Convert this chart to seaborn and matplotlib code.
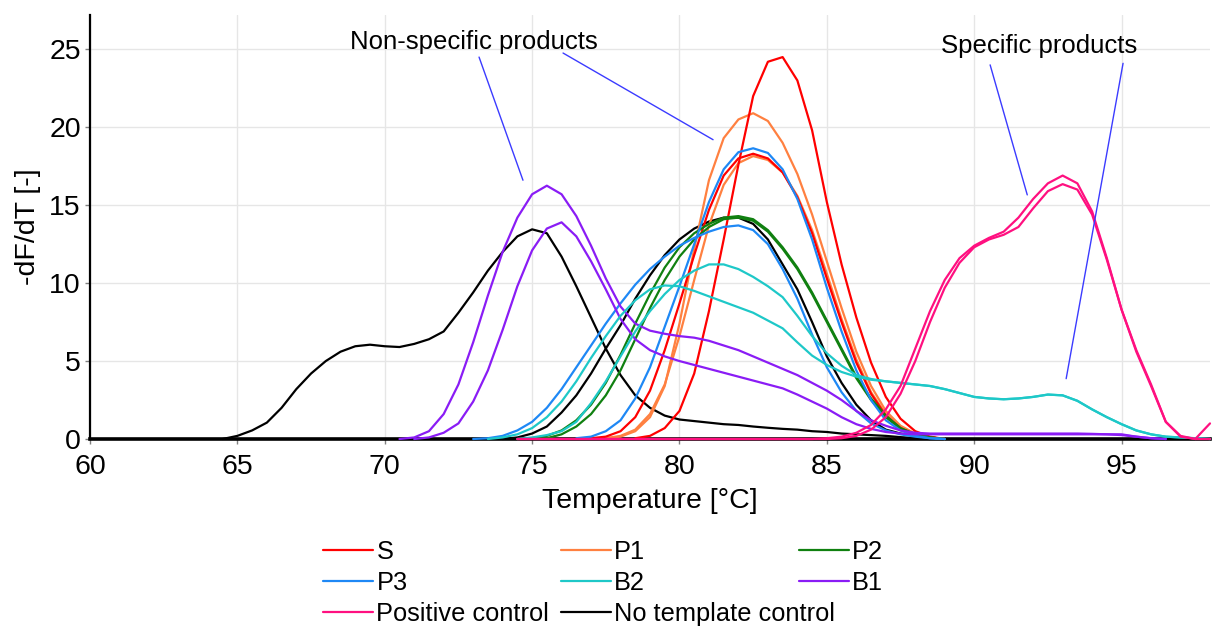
import numpy as np
import pandas as pd
import matplotlib
matplotlib.use("Agg")
import matplotlib.pyplot as plt
from matplotlib.lines import Line2D
import seaborn as sns

# Melt-curve derivative readings, one value every 0.5 °C from each start temperature
STEP = 0.5

samples = ["S", "P1", "P2", "P3", "B2", "B1", "Positive control", "No template control"]
colors = ["#FF0000", "#FF8040", "#108010", "#1E88F5", "#1EC8C8", "#8A1CF5", "#FF1080", "#000000"]

s_start = [78.5, 77.0]
s_rep1 = [0.05, 0.2, 0.7, 1.8, 4.2, 8.2, 12.8, 17.6, 22.0, 24.2, 24.5, 23.0, 19.8, 15.2,
          11.2, 7.8, 4.9, 2.7, 1.3, 0.5, 0.15, 0.0]
s_rep2 = [0.05, 0.15, 0.5, 1.4, 3.1, 5.7, 8.7, 11.8, 14.7, 16.9, 18.0, 18.3, 18.0, 17.1,
          15.5, 13.2, 10.3, 7.5, 4.9, 2.9, 1.5, 0.7, 0.3, 0.1, 0.0]

p1_start = [77.5, 77.5]
p1_rep1 = [0.05, 0.15, 0.5, 1.4, 3.4, 7.4, 12.2, 16.6, 19.3, 20.5, 20.9, 20.4, 19.0, 17.0,
           14.4, 11.4, 8.4, 5.6, 3.4, 1.8, 0.85, 0.35, 0.1, 0.0]
p1_rep2 = [0.05, 0.2, 0.6, 1.6, 3.5, 6.6, 10.2, 13.7, 16.3, 17.7, 18.15, 17.9, 17.1, 15.6,
           13.4, 10.6, 7.7, 5.1, 3.0, 1.6, 0.75, 0.3, 0.1, 0.0]

p2_start = [74.5, 75.0]
p2_rep1 = [0.0, 0.05, 0.2, 0.55, 1.2, 2.2, 3.6, 5.4, 7.4, 9.3, 11.0, 12.3, 13.2, 13.8, 14.2,
           14.3, 14.1, 13.4, 12.3, 11.0, 9.4, 7.6, 5.8, 4.0, 2.6, 1.5, 0.7, 0.3, 0.1, 0.0]
p2_rep2 = [0.0, 0.05, 0.3, 0.8, 1.6, 2.8, 4.4, 6.4, 8.4, 10.2, 11.7, 12.8, 13.6, 14.1, 14.2,
           14.0, 13.3, 12.2, 10.9, 9.3, 7.5, 5.7, 3.9, 2.5, 1.4, 0.65, 0.3, 0.1, 0.0]

p3_start = [76.5, 73.0]
p3_rep1 = [0.05, 0.15, 0.5, 1.2, 2.6, 4.6, 7.2, 9.8, 12.5, 15.2, 17.3, 18.4, 18.65, 18.35,
           17.3, 15.4, 12.8, 9.7, 6.9, 4.4, 2.5, 1.2, 0.55, 0.2, 0.05, 0.0]
p3_rep2 = [0.0, 0.05, 0.2, 0.55, 1.1, 2.0, 3.2, 4.6, 6.0, 7.4, 8.7, 9.9, 10.9, 11.7, 12.4,
           12.9, 13.3, 13.6, 13.7, 13.4, 12.5, 10.9, 9.0, 6.7, 4.6, 3.0, 1.8, 1.0, 0.55, 0.3,
           0.15, 0.05, 0.0]

b2_start = [74.5, 73.5]
b2_rep1 = [0.0, 0.1, 0.25, 0.5, 1.1, 2.3, 3.7, 5.3, 6.9, 8.2, 9.3, 10.2, 10.8, 11.2, 11.2,
           10.9, 10.4, 9.8, 9.1, 7.9, 6.6, 5.5, 4.7, 4.1, 3.85, 3.7, 3.6, 3.5, 3.4, 3.2,
           2.95, 2.7, 2.6, 2.55, 2.6, 2.7, 2.85, 2.8, 2.45, 1.9, 1.4, 0.95, 0.55, 0.3, 0.15,
           0.1, 0.05, 0.0]
b2_rep2 = [0.0, 0.1, 0.3, 0.7, 1.4, 2.4, 3.7, 5.2, 6.6, 7.9, 8.9, 9.6, 9.85, 9.8, 9.5, 9.15,
           8.8, 8.45, 8.1, 7.6, 7.1, 6.2, 5.35, 4.75, 4.3, 4.0, 3.8, 3.7, 3.6, 3.5, 3.4, 3.2,
           2.95, 2.7, 2.6, 2.55, 2.6, 2.7, 2.85, 2.8, 2.45, 1.9, 1.4, 0.95, 0.55, 0.3, 0.15,
           0.1, 0.05, 0.0]

b1_start = [70.5, 71.0]
b1_rep1 = [0.0, 0.1, 0.5, 1.6, 3.5, 6.2, 9.2, 12.0, 14.2, 15.7, 16.25, 15.7, 14.3, 12.4,
           10.3, 8.5, 7.4, 6.95, 6.75, 6.6, 6.5, 6.3, 6.0, 5.7, 5.3, 4.9, 4.5, 4.1, 3.6, 3.1,
           2.5, 1.8, 1.2, 0.85, 0.55, 0.4, 0.35, 0.35, 0.35, 0.35, 0.35, 0.35, 0.35, 0.35,
           0.35, 0.35, 0.35, 0.33, 0.3, 0.25, 0.15, 0.05, 0.0]
b1_rep2 = [0.0, 0.1, 0.4, 1.0, 2.4, 4.4, 7.0, 9.8, 12.1, 13.5, 13.9, 13.0, 11.4, 9.6, 7.7,
           6.4, 5.7, 5.3, 5.0, 4.75, 4.5, 4.25, 4.0, 3.75, 3.5, 3.25, 2.85, 2.4, 1.95, 1.4,
           0.95, 0.65, 0.45, 0.35, 0.3, 0.3, 0.3, 0.3, 0.3, 0.3, 0.3, 0.3, 0.3, 0.3, 0.3,
           0.3, 0.3, 0.3, 0.3, 0.15, 0.05, 0.0]

pc_start = [74.5, 74.5]
pc_rep1 = [0.0, 0.0, 0.0, 0.0, 0.0, 0.0, 0.0, 0.0, 0.0, 0.0, 0.0, 0.0, 0.0, 0.0, 0.0, 0.0,
           0.0, 0.0, 0.0, 0.0, 0.0, 0.05, 0.15, 0.4, 0.9, 1.9, 3.4, 5.8, 8.2, 10.2, 11.6,
           12.4, 12.9, 13.3, 14.2, 15.4, 16.4, 16.9, 16.4, 14.6, 11.6, 8.3, 5.7, 3.5, 1.1,
           0.2, 0.0, 1.0]
pc_rep2 = [0.0, 0.0, 0.0, 0.0, 0.0, 0.0, 0.0, 0.0, 0.0, 0.0, 0.0, 0.0, 0.0, 0.0, 0.0, 0.0,
           0.0, 0.0, 0.0, 0.0, 0.0, 0.0, 0.05, 0.2, 0.6, 1.4, 2.9, 5.0, 7.5, 9.7, 11.3, 12.3,
           12.8, 13.1, 13.6, 14.8, 15.9, 16.35, 16.0, 14.4, 11.5, 8.3, 5.6, 3.4, 1.1, 0.15,
           0.0, 0.0]

ntc_start = [64.5, 74.0]
ntc_rep1 = [0.0, 0.2, 0.55, 1.05, 2.0, 3.2, 4.2, 5.0, 5.6, 5.95, 6.05, 5.95, 5.9, 6.1, 6.4,
            6.9, 8.1, 9.4, 10.8, 12.0, 13.0, 13.45, 13.2, 11.7, 9.8, 7.8, 5.8, 4.1, 2.8, 2.0,
            1.5, 1.25, 1.15, 1.05, 0.95, 0.9, 0.8, 0.72, 0.65, 0.6, 0.5, 0.45, 0.35, 0.3,
            0.25, 0.2, 0.12, 0.05, 0.0]
ntc_rep2 = [0.0, 0.1, 0.35, 0.8, 1.7, 2.8, 4.2, 5.8, 7.3, 9.0, 10.5, 11.8, 12.8, 13.5, 13.95,
            14.2, 14.2, 13.8, 12.8, 11.2, 9.6, 7.5, 5.3, 3.6, 2.2, 1.2, 0.6, 0.35, 0.2, 0.1,
            0.0]

x_ticks = [60, 65, 70, 75, 80, 85, 90, 95]
y_ticks = [0, 5, 10, 15, 20, 25]

curves = [
    ("No template control", ntc_start[0], ntc_rep1), ("No template control", ntc_start[1], ntc_rep2),
    ("P1", p1_start[0], p1_rep1), ("P1", p1_start[1], p1_rep2),
    ("S", s_start[0], s_rep1), ("S", s_start[1], s_rep2),
    ("P2", p2_start[0], p2_rep1), ("P2", p2_start[1], p2_rep2),
    ("P3", p3_start[0], p3_rep1), ("P3", p3_start[1], p3_rep2),
    ("B1", b1_start[0], b1_rep1), ("B1", b1_start[1], b1_rep2),
    ("B2", b2_start[0], b2_rep1), ("B2", b2_start[1], b2_rep2),
    ("Positive control", pc_start[0], pc_rep1), ("Positive control", pc_start[1], pc_rep2),
]

frames = []
for idx, (name, t0, vals) in enumerate(curves):
    frames.append(pd.DataFrame({
        "Temperature": t0 + STEP * np.arange(len(vals)),
        "dFdT": vals,
        "Sample": name,
        "Curve": idx,
    }))
df = pd.concat(frames, ignore_index=True)

sns.set_theme(style="white")
plt.rcParams["font.family"] = ["Liberation Sans", "DejaVu Sans"]
plt.rcParams["text.color"] = "black"
plt.rcParams["axes.labelcolor"] = "black"

W, H = 1213, 630
fig = plt.figure(figsize=(W / 100, H / 100), dpi=100)
ax = fig.add_axes([90 / W, 1 - 439 / H, (1210 - 90) / W, (439 - 15) / H])

palette = dict(zip(samples, colors))
draw_order = ["No template control", "P1", "S", "P2", "P3", "B1", "B2", "Positive control"]
sns.lineplot(data=df, x="Temperature", y="dFdT", hue="Sample", hue_order=draw_order,
             units="Curve", estimator=None, sort=False, palette=palette,
             linewidth=1.6, legend=False, ax=ax)
for line in ax.lines:
    line.set_zorder(3)
    line.set_clip_on(False)

ax.set_xlim(60, 98)
ax.set_ylim(0, 27.2)
ax.set_xticks(x_ticks)
ax.set_yticks(y_ticks)
ax.grid(True, color="#E6E6E6", linewidth=1.0)
ax.set_axisbelow(True)
for side in ("top", "right"):
    ax.spines[side].set_visible(False)
ax.spines["left"].set_color("black")
ax.spines["left"].set_linewidth(1.6)
ax.spines["bottom"].set_color("black")
ax.spines["bottom"].set_linewidth(2.6)
ax.tick_params(axis="both", which="major", length=3.5, width=1, color="#808080",
               labelsize=20.5, labelcolor="black", bottom=True, left=True)
ax.tick_params(axis="x", pad=7)
ax.tick_params(axis="y", pad=3)
ax.set_xlabel("Temperature [°C]", fontsize=20.5, labelpad=6)
ax.set_ylabel("-dF/dT [-]", fontsize=20.5, labelpad=6)

# callouts
line_kw = dict(arrowstyle="-", color="#3B3BFF", linewidth=1.0, shrinkA=0, shrinkB=0)
ax.text(73.03, 25.5, "Non-specific products", fontsize=18.5, ha="center", va="center")
ax.annotate("", xy=(74.69, 16.6), xytext=(73.2, 24.5), arrowprops=line_kw)
ax.annotate("", xy=(81.14, 19.2), xytext=(76.05, 24.76), arrowprops=line_kw)
ax.text(92.2, 25.2, "Specific products", fontsize=18.5, ha="center", va="center")
ax.annotate("", xy=(91.8, 15.66), xytext=(90.54, 24.0), arrowprops=line_kw)
ax.annotate("", xy=(93.12, 3.87), xytext=(95.05, 24.1), arrowprops=line_kw)

# legend laid out as a 3-column grid, filled row by row
col_x = [323, 561, 799]
for c in range(3):
    names = samples[c::3]
    handles = [Line2D([], [], color=palette[n], linewidth=1.6) for n in names]
    fig.legend(handles, names, loc="upper left", bbox_to_anchor=(col_x[c] / W, 1 - 540 / H),
               frameon=False, fontsize=18.3, handlelength=1.95, handletextpad=0.15,
               borderpad=0, borderaxespad=0, labelspacing=0.27)

fig.savefig("out.png", dpi=100, facecolor="white")
